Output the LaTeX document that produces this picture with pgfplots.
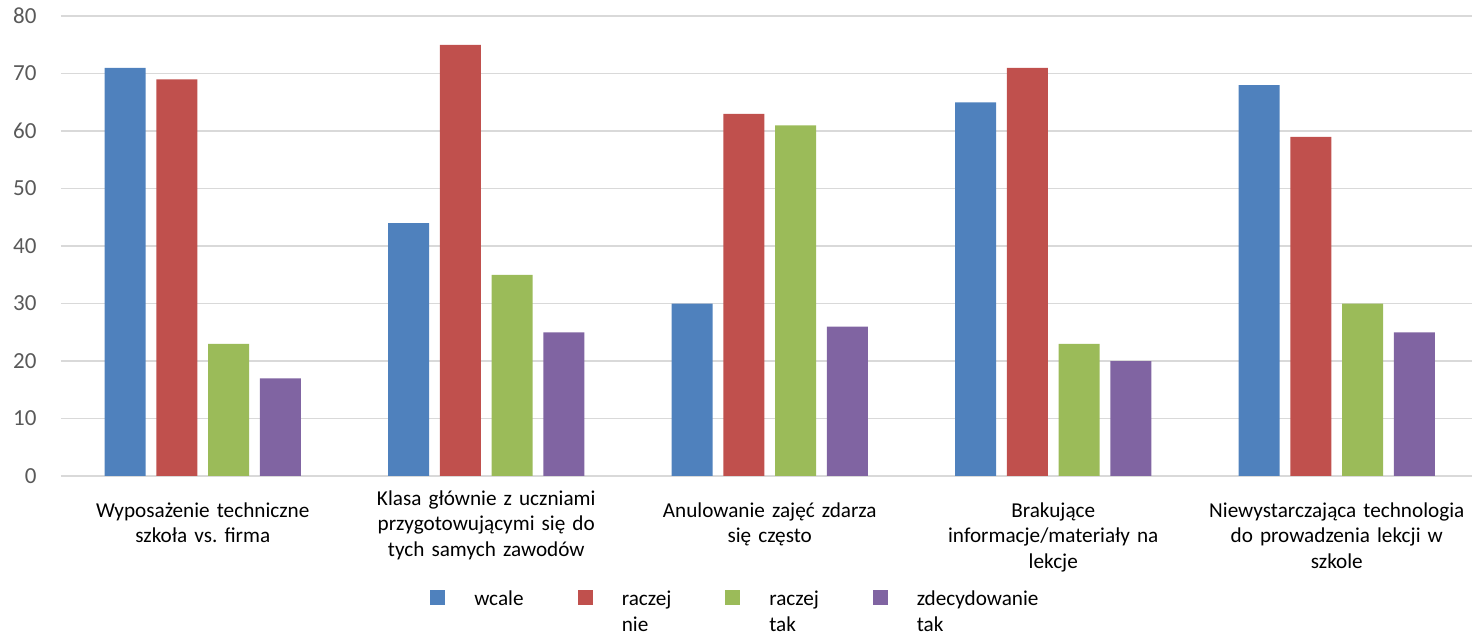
\documentclass[border=0pt]{standalone}
\usepackage{pgfplots}
\pgfplotsset{compat=1.18}
\usepackage{fontspec}
\setmainfont{Carlito}
\frenchspacing
\definecolor{sblue}{RGB}{79,129,189}
\definecolor{sred}{RGB}{192,80,77}
\definecolor{sgreen}{RGB}{155,187,89}
\definecolor{spurple}{RGB}{128,100,162}
\definecolor{tickgray}{RGB}{89,89,89}
\definecolor{gridgray}{RGB}{217,217,217}
\begin{document}
\begin{tikzpicture}
\begin{axis}[
  at={(0pt,0pt)}, anchor=south west,
  scale only axis,
  width=708.75pt, height=230pt,
  ybar=5.35pt, bar width=20.5pt,
  xmin=-0.5, xmax=4.5,
  ymin=0, ymax=80,
  ytick={0,10,...,80},
  xtick={0,2,3,4},
  xticklabels={{Wyposażenie techniczne\\szkoła vs. firma},
    {Anulowanie zajęć zdarza\\się często},
    {Brakujące\\informacje/materiały na\\lekcje},
    {Niewystarczająca technologia\\do prowadzenia lekcji w\\szkole}},
  extra x ticks={1},
  extra x tick labels={{Klasa głównie z uczniami\\przygotowującymi się do\\tych samych zawodów}},
  extra x tick style={major tick length=0pt, xticklabel style={yshift=6pt}},
  major tick length=0pt,
  axis line style={draw=none},
  ymajorgrids,
  grid style={gridgray, line width=0.8pt},
  /pgf/number format/assume math mode=true,
  tick label style={font=\fontsize{10.6}{12.6}\selectfont},
  yticklabel style={text=tickgray, xshift=-8.7pt, font=\fontsize{11.5}{13}\selectfont},
  xticklabel style={text width=140pt, align=center, anchor=north, yshift=-10pt},
  legend style={draw=none, at={(0.256,-0.225)}, anchor=north west,
    legend columns=4, font=\fontsize{10.6}{12.6}\selectfont,
    cells={anchor=north west},
    nodes={text width=46pt, align=left, text depth=},
    /tikz/every odd column/.append style={column sep=12.5pt},
    /tikz/every even column/.append style={column sep=3.75pt}},
  legend image code/.code={\fill[#1, draw=none] (0pt,-10.5pt) rectangle (7.5pt,-3pt); \path (0pt,0pt);},
  clip=false,
]
\addplot[fill=sblue, draw=none] coordinates {(0,71) (1,44) (2,30) (3,65) (4,68)};
\addplot[fill=sred, draw=none] coordinates {(0,69) (1,75) (2,63) (3,71) (4,59)};
\addplot[fill=sgreen, draw=none] coordinates {(0,23) (1,35) (2,61) (3,23) (4,30)};
\addplot[fill=spurple, draw=none] coordinates {(0,17) (1,25) (2,26) (3,20) (4,25)};
\legend{\strut wcale,{\strut raczej\\nie},{\strut raczej\\tak},{\strut\mbox{zdecydowanie}\\tak}}
\end{axis}
\pgfresetboundingbox
\path[use as bounding box] (-30.5pt,-80pt) rectangle (705.5pt,238pt);
\end{tikzpicture}
\end{document}
